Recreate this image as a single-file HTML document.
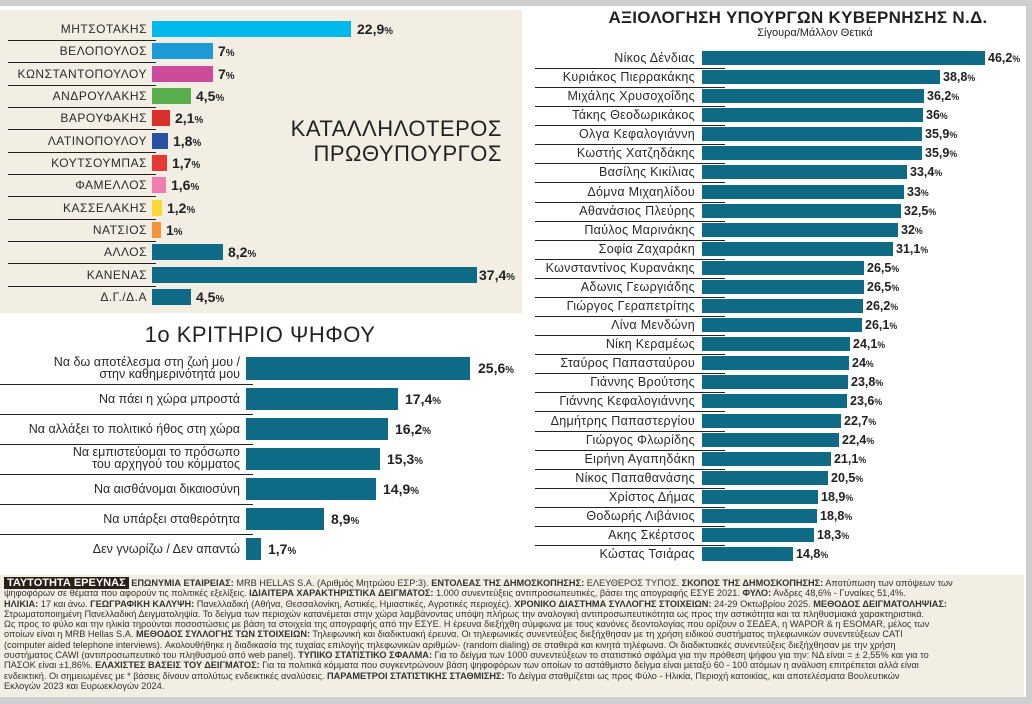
<!DOCTYPE html>
<html><head><meta charset="utf-8"><style>
body{margin:0;width:1032px;height:704px;position:relative;background:#fff;font-family:"Liberation Sans","DejaVu Sans",sans-serif;color:#2a2a2a;overflow:hidden}
.a{position:absolute}
.l{position:absolute;text-align:right;white-space:nowrap}
.b{position:absolute}
.v{position:absolute;font-weight:bold;white-space:nowrap;color:#222}
.v small{font-size:70%}
.ln{position:absolute;height:1px;background:#222}
.t1 .l{right:885px;font-size:12px;letter-spacing:.5px;line-height:16px}
.t1 .b{left:152px;height:16px}
.t1 .v{font-size:14px;line-height:16px}
.t1 .ln{left:8px;width:148px}
.t2 .l{right:792px;font-size:12.5px;line-height:22px}
.t2 .l.two{line-height:11.5px}
.t2 .b{left:246px;height:22px;background:#0f6a85}
.t2 .v{font-size:14px;line-height:22px}
.t2 .ln{left:0;width:253px}
.t3 .l{right:337px;font-size:12.5px;line-height:14px;letter-spacing:.3px}
.t3 .b{left:702px;height:14px;background:#0f6a85}
.t3 .v{font-size:12.5px;line-height:14px}
.t3 .ln{left:535px;width:190px}
.ft div{white-space:nowrap;font-family:"Liberation Sans Narrow","Liberation Sans",sans-serif;font-size:9.2px;line-height:10.3px;color:#333}
</style></head><body>
<div class="a" style="left:0;top:0;width:1032px;height:6px;background:#cfcfcf"></div>
<div class="a" style="left:1026px;top:0;width:6px;height:704px;background:#cfcfcf"></div>
<div class="a" style="left:0;top:697px;width:1032px;height:7px;background:#cfcfcf"></div>
<div class="a" style="left:0;top:10px;width:522px;height:303px;background:#f2eee3"></div>

<div class="t1">
<div class="l" style="top:21px">ΜΗΤΣΟΤΑΚΗΣ</div><div class="b" style="top:21px;width:199px;background:#00b8ec"></div><div class="v" style="top:21px;left:357px">22,9<small>%</small></div><div class="ln" style="top:40px"></div>
<div class="l" style="top:43px">ΒΕΛΟΠΟΥΛΟΣ</div><div class="b" style="top:43px;width:61px;background:#1e9ad6"></div><div class="v" style="top:43px;left:218px">7<small>%</small></div><div class="ln" style="top:62px"></div>
<div class="l" style="top:66px">ΚΩΝΣΤΑΝΤΟΠΟΥΛΟΥ</div><div class="b" style="top:66px;width:61px;background:#cc4b9b"></div><div class="v" style="top:66px;left:218px">7<small>%</small></div><div class="ln" style="top:85px"></div>
<div class="l" style="top:88px">ΑΝΔΡΟΥΛΑΚΗΣ</div><div class="b" style="top:88px;width:39px;background:#5aaf4d"></div><div class="v" style="top:88px;left:196px">4,5<small>%</small></div><div class="ln" style="top:107px"></div>
<div class="l" style="top:110px">ΒΑΡΟΥΦΑΚΗΣ</div><div class="b" style="top:110px;width:18px;background:#d9302d"></div><div class="v" style="top:110px;left:175px">2,1<small>%</small></div><div class="ln" style="top:129px"></div>
<div class="l" style="top:133px">ΛΑΤΙΝΟΠΟΥΛΟΥ</div><div class="b" style="top:133px;width:16px;background:#2b4fa3"></div><div class="v" style="top:133px;left:173px">1,8<small>%</small></div><div class="ln" style="top:152px"></div>
<div class="l" style="top:155px">ΚΟΥΤΣΟΥΜΠΑΣ</div><div class="b" style="top:155px;width:15px;background:#e53935"></div><div class="v" style="top:155px;left:172px">1,7<small>%</small></div><div class="ln" style="top:174px"></div>
<div class="l" style="top:177px">ΦΑΜΕΛΛΟΣ</div><div class="b" style="top:177px;width:14px;background:#f17cb0"></div><div class="v" style="top:177px;left:171px">1,6<small>%</small></div><div class="ln" style="top:196px"></div>
<div class="l" style="top:200px">ΚΑΣΣΕΛΑΚΗΣ</div><div class="b" style="top:200px;width:10px;background:#fdd835"></div><div class="v" style="top:200px;left:167px">1,2<small>%</small></div><div class="ln" style="top:219px"></div>
<div class="l" style="top:222px">ΝΑΤΣΙΟΣ</div><div class="b" style="top:222px;width:9px;background:#f7923a"></div><div class="v" style="top:222px;left:166px">1<small>%</small></div><div class="ln" style="top:241px"></div>
<div class="l" style="top:244px">ΑΛΛΟΣ</div><div class="b" style="top:244px;width:71px;background:#0f6a85"></div><div class="v" style="top:244px;left:228px">8,2<small>%</small></div><div class="ln" style="top:263px"></div>
<div class="l" style="top:267px">ΚΑΝΕΝΑΣ</div><div class="b" style="top:267px;width:325px;background:#0f6a85"></div><div class="v" style="top:267px;left:479px">37,4<small>%</small></div><div class="ln" style="top:286px"></div>
<div class="l" style="top:289px">Δ.Γ./Δ.Α</div><div class="b" style="top:289px;width:39px;background:#0f6a85"></div><div class="v" style="top:289px;left:196px">4,5<small>%</small></div>
</div>
<div class="a" style="left:270px;top:116px;width:232px;text-align:right;font-size:22px;line-height:25px;letter-spacing:.5px;color:#222">ΚΑΤΑΛΛΗΛΟΤΕΡΟΣ<br>ΠΡΩΘΥΠΟΥΡΓΟΣ</div>

<div class="a" style="left:0;top:322px;width:520px;text-align:center;font-size:22px;color:#222;letter-spacing:.5px">1ο ΚΡΙΤΗΡΙΟ ΨΗΦΟΥ</div>
<div class="t2">
<div class="l two" style="top:357px">Να δω αποτέλεσμα στη ζωή μου /<br>στην καθημερινότητά μου</div><div class="b" style="top:357px;height:23px;width:224px"></div><div class="v" style="top:357px;left:478px">25,6<small>%</small></div><div class="ln" style="top:384px"></div>
<div class="l" style="top:388px">Να πάει η χώρα μπροστά</div><div class="b" style="top:388px;width:152px"></div><div class="v" style="top:388px;left:405px">17,4<small>%</small></div><div class="ln" style="top:414px"></div>
<div class="l" style="top:418px">Να αλλάξει το πολιτικό ήθος στη χώρα</div><div class="b" style="top:418px;width:142px"></div><div class="v" style="top:418px;left:395px">16,2<small>%</small></div><div class="ln" style="top:444px"></div>
<div class="l two" style="top:447px">Να εμπιστεύομαι το πρόσωπο<br>του αρχηγού του κόμματος</div><div class="b" style="top:448px;width:134px"></div><div class="v" style="top:448px;left:387px">15,3<small>%</small></div><div class="ln" style="top:474px"></div>
<div class="l" style="top:478px">Να αισθάνομαι δικαιοσύνη</div><div class="b" style="top:478px;width:130px"></div><div class="v" style="top:478px;left:383px">14,9<small>%</small></div><div class="ln" style="top:504px"></div>
<div class="l" style="top:508px">Να υπάρξει σταθερότητα</div><div class="b" style="top:508px;width:78px"></div><div class="v" style="top:508px;left:331px">8,9<small>%</small></div><div class="ln" style="top:534px"></div>
<div class="l" style="top:538px">Δεν γνωρίζω / Δεν απαντώ</div><div class="b" style="top:538px;width:15px"></div><div class="v" style="top:538px;left:268px">1,7<small>%</small></div>
</div>

<div class="a" style="left:530px;top:8px;width:536px;text-align:center;font-size:17px;font-weight:bold;letter-spacing:.3px;color:#222">ΑΞΙΟΛΟΓΗΣΗ ΥΠΟΥΡΓΩΝ ΚΥΒΕΡΝΗΣΗΣ Ν.Δ.</div>
<div class="a" style="left:690px;top:27px;width:250px;text-align:center;font-size:11px;color:#222">Σίγουρα/Μάλλον Θετικά</div>
<div class="t3">
<div class="l" style="top:51px">Νίκος Δένδιας</div><div class="b" style="top:51px;width:283px"></div><div class="v" style="top:51px;left:988px">46,2<small>%</small></div><div class="ln" style="top:68px"></div>
<div class="l" style="top:70px">Κυριάκος Πιερρακάκης</div><div class="b" style="top:70px;width:238px"></div><div class="v" style="top:70px;left:943px">38,8<small>%</small></div><div class="ln" style="top:87px"></div>
<div class="l" style="top:89px">Μιχάλης Χρυσοχοΐδης</div><div class="b" style="top:89px;width:222px"></div><div class="v" style="top:89px;left:927px">36,2<small>%</small></div><div class="ln" style="top:106px"></div>
<div class="l" style="top:108px">Τάκης Θεοδωρικάκος</div><div class="b" style="top:108px;width:221px"></div><div class="v" style="top:108px;left:926px">36<small>%</small></div><div class="ln" style="top:125px"></div>
<div class="l" style="top:127px">Ολγα Κεφαλογιάννη</div><div class="b" style="top:127px;width:220px"></div><div class="v" style="top:127px;left:925px">35,9<small>%</small></div><div class="ln" style="top:144px"></div>
<div class="l" style="top:146px">Κωστής Χατζηδάκης</div><div class="b" style="top:146px;width:220px"></div><div class="v" style="top:146px;left:925px">35,9<small>%</small></div><div class="ln" style="top:163px"></div>
<div class="l" style="top:165px">Βασίλης Κικίλιας</div><div class="b" style="top:165px;width:205px"></div><div class="v" style="top:165px;left:910px">33,4<small>%</small></div><div class="ln" style="top:182px"></div>
<div class="l" style="top:185px">Δόμνα Μιχαηλίδου</div><div class="b" style="top:185px;width:202px"></div><div class="v" style="top:185px;left:907px">33<small>%</small></div><div class="ln" style="top:202px"></div>
<div class="l" style="top:204px">Αθανάσιος Πλεύρης</div><div class="b" style="top:204px;width:199px"></div><div class="v" style="top:204px;left:904px">32,5<small>%</small></div><div class="ln" style="top:221px"></div>
<div class="l" style="top:223px">Παύλος Μαρινάκης</div><div class="b" style="top:223px;width:196px"></div><div class="v" style="top:223px;left:901px">32<small>%</small></div><div class="ln" style="top:240px"></div>
<div class="l" style="top:242px">Σοφία Ζαχαράκη</div><div class="b" style="top:242px;width:191px"></div><div class="v" style="top:242px;left:896px">31,1<small>%</small></div><div class="ln" style="top:259px"></div>
<div class="l" style="top:261px">Κωνσταντίνος Κυρανάκης</div><div class="b" style="top:261px;width:162px"></div><div class="v" style="top:261px;left:867px">26,5<small>%</small></div><div class="ln" style="top:278px"></div>
<div class="l" style="top:280px">Αδωνις Γεωργιάδης</div><div class="b" style="top:280px;width:162px"></div><div class="v" style="top:280px;left:867px">26,5<small>%</small></div><div class="ln" style="top:297px"></div>
<div class="l" style="top:299px">Γιώργος Γεραπετρίτης</div><div class="b" style="top:299px;width:161px"></div><div class="v" style="top:299px;left:866px">26,2<small>%</small></div><div class="ln" style="top:316px"></div>
<div class="l" style="top:318px">Λίνα Μενδώνη</div><div class="b" style="top:318px;width:160px"></div><div class="v" style="top:318px;left:865px">26,1<small>%</small></div><div class="ln" style="top:335px"></div>
<div class="l" style="top:337px">Νίκη Κεραμέως</div><div class="b" style="top:337px;width:148px"></div><div class="v" style="top:337px;left:853px">24,1<small>%</small></div><div class="ln" style="top:354px"></div>
<div class="l" style="top:356px">Σταύρος Παπασταύρου</div><div class="b" style="top:356px;width:147px"></div><div class="v" style="top:356px;left:852px">24<small>%</small></div><div class="ln" style="top:373px"></div>
<div class="l" style="top:375px">Γιάννης Βρούτσης</div><div class="b" style="top:375px;width:146px"></div><div class="v" style="top:375px;left:851px">23,8<small>%</small></div><div class="ln" style="top:392px"></div>
<div class="l" style="top:394px">Γιάννης Κεφαλογιάννης</div><div class="b" style="top:394px;width:145px"></div><div class="v" style="top:394px;left:850px">23,6<small>%</small></div><div class="ln" style="top:411px"></div>
<div class="l" style="top:414px">Δημήτρης Παπαστεργίου</div><div class="b" style="top:414px;width:139px"></div><div class="v" style="top:414px;left:844px">22,7<small>%</small></div><div class="ln" style="top:431px"></div>
<div class="l" style="top:433px">Γιώργος Φλωρίδης</div><div class="b" style="top:433px;width:137px"></div><div class="v" style="top:433px;left:842px">22,4<small>%</small></div><div class="ln" style="top:450px"></div>
<div class="l" style="top:452px">Ειρήνη Αγαπηδάκη</div><div class="b" style="top:452px;width:129px"></div><div class="v" style="top:452px;left:834px">21,1<small>%</small></div><div class="ln" style="top:469px"></div>
<div class="l" style="top:471px">Νίκος Παπαθανάσης</div><div class="b" style="top:471px;width:126px"></div><div class="v" style="top:471px;left:831px">20,5<small>%</small></div><div class="ln" style="top:488px"></div>
<div class="l" style="top:490px">Χρίστος Δήμας</div><div class="b" style="top:490px;width:116px"></div><div class="v" style="top:490px;left:821px">18,9<small>%</small></div><div class="ln" style="top:507px"></div>
<div class="l" style="top:509px">Θοδωρής Λιβάνιος</div><div class="b" style="top:509px;width:115px"></div><div class="v" style="top:509px;left:820px">18,8<small>%</small></div><div class="ln" style="top:526px"></div>
<div class="l" style="top:528px">Ακης Σκέρτσος</div><div class="b" style="top:528px;width:112px"></div><div class="v" style="top:528px;left:817px">18,3<small>%</small></div><div class="ln" style="top:545px"></div>
<div class="l" style="top:547px">Κώστας Τσιάρας</div><div class="b" style="top:547px;width:91px"></div><div class="v" style="top:547px;left:796px">14,8<small>%</small></div>
</div>

<div class="a" style="left:0;top:575px;width:1024px;height:122px;background:#f2eee3"></div>
<div class="a ft" style="left:4px;top:578px">
<div><b style="background:#2a2018;color:#fff;font-size:11px;padding:0 3px">ΤΑΥΤΟΤΗΤΑ ΕΡΕΥΝΑΣ</b> <b>ΕΠΩΝΥΜΙΑ ΕΤΑΙΡΕΙΑΣ:</b> MRB HELLAS S.A. (Αριθμός Μητρώου ΕΣΡ:3). <b>ΕΝΤΟΛΕΑΣ ΤΗΣ ΔΗΜΟΣΚΟΠΗΣΗΣ:</b> ΕΛΕΥΘΕΡΟΣ ΤΥΠΟΣ. <b>ΣΚΟΠΟΣ ΤΗΣ ΔΗΜΟΣΚΟΠΗΣΗΣ:</b> Αποτύπωση των απόψεων των</div>
<div>ψηφοφόρων σε θέματα που αφορούν τις πολιτικές εξελίξεις. <b>ΙΔΙΑΙΤΕΡΑ ΧΑΡΑΚΤΗΡΙΣΤΙΚΑ ΔΕΙΓΜΑΤΟΣ:</b> 1.000 συνεντεύξεις αντιπροσωπευτικές, βάσει της απογραφής ΕΣΥΕ 2021. <b>ΦΥΛΟ:</b> Ανδρες 48,6% - Γυναίκες 51,4%.</div>
<div><b>ΗΛΙΚΙΑ:</b> 17 και άνω. <b>ΓΕΩΓΡΑΦΙΚΗ ΚΑΛΥΨΗ:</b> Πανελλαδική (Αθήνα, Θεσσαλονίκη, Αστικές, Ημιαστικές, Αγροτικές περιοχές). <b>ΧΡΟΝΙΚΟ ΔΙΑΣΤΗΜΑ ΣΥΛΛΟΓΗΣ ΣΤΟΙΧΕΙΩΝ:</b> 24-29 Οκτωβρίου 2025. <b>ΜΕΘΟΔΟΣ ΔΕΙΓΜΑΤΟΛΗΨΙΑΣ:</b></div>
<div>Στρωματοποιημένη Πανελλαδική Δειγματοληψία. Το δείγμα των περιοχών κατανέμεται στην χώρα λαμβάνοντας υπόψη πλήρως την αναλογική αντιπροσωπευτικότητα ως προς την αστικότητα και τα πληθυσμιακά χαρακτηριστικά.</div>
<div>Ως προς το φύλο και την ηλικία τηρούνται ποσοστώσεις με βάση τα στοιχεία της απογραφής από την ΕΣΥΕ. Η έρευνα διεξήχθη σύμφωνα με τους κανόνες δεοντολογίας που ορίζουν ο ΣΕΔΕΑ, η WAPOR &amp; η ESOMAR, μέλος των</div>
<div>οποίων είναι η MRB Hellas S.A. <b>ΜΕΘΟΔΟΣ ΣΥΛΛΟΓΗΣ ΤΩΝ ΣΤΟΙΧΕΙΩΝ:</b> Τηλεφωνική και διαδικτυακή έρευνα. Οι τηλεφωνικές συνεντεύξεις διεξήχθησαν με τη χρήση ειδικού συστήματος τηλεφωνικών συνεντεύξεων CATI</div>
<div>(computer aided telephone interviews). Ακολουθήθηκε η διαδικασία της τυχαίας επιλογής τηλεφωνικών αριθμών- (random dialing) σε σταθερά και κινητά τηλέφωνα. Οι διαδικτυακές συνεντεύξεις διεξήχθησαν με την χρήση</div>
<div>συστήματος CAWI (αντιπροσωπευτικό του πληθυσμού από web panel). <b>ΤΥΠΙΚΟ ΣΤΑΤΙΣΤΙΚΟ ΣΦΑΛΜΑ:</b> Για το δείγμα των 1000 συνεντεύξεων το στατιστικό σφάλμα για την πρόθεση ψήφου για την: ΝΔ είναι = ± 2,55% και για το</div>
<div>ΠΑΣΟΚ είναι ±1,86%. <b>ΕΛΑΧΙΣΤΕΣ ΒΑΣΕΙΣ ΤΟΥ ΔΕΙΓΜΑΤΟΣ:</b> Για τα πολιτικά κόμματα που συγκεντρώνουν βάση ψηφοφόρων των οποίων το αστάθμιστο δείγμα είναι μεταξύ 60 - 100 ατόμων η ανάλυση επιτρέπεται αλλά είναι</div>
<div>ενδεικτική. Οι σημειωμένες με * βάσεις δίνουν απολύτως ενδεικτικές αναλύσεις. <b>ΠΑΡΑΜΕΤΡΟΙ ΣΤΑΤΙΣΤΙΚΗΣ ΣΤΑΘΜΙΣΗΣ:</b> Το Δείγμα σταθμίζεται ως προς Φύλο - Ηλικία, Περιοχή κατοικίας, και αποτελέσματα Βουλευτικών</div>
<div>Εκλογών 2023 και Ευρωεκλογών 2024.</div>
</div>
</body></html>
